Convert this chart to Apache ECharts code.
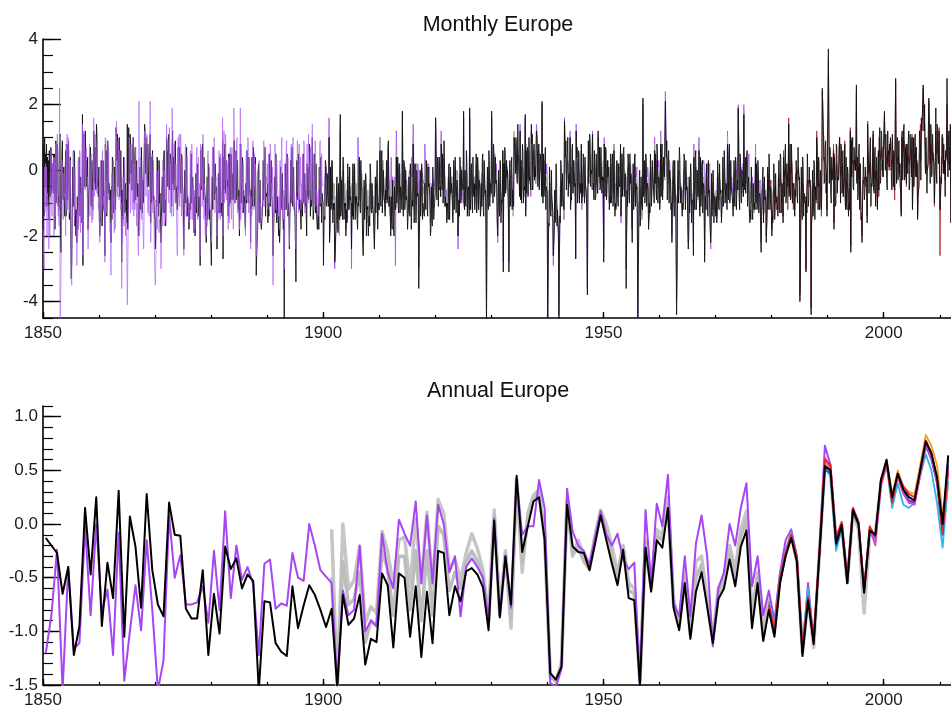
<!DOCTYPE html>
<html>
<head>
<meta charset="utf-8">
<title>Europe temperature anomalies</title>
<script src="https://cdn.jsdelivr.net/npm/echarts@6.0.0/dist/echarts.min.js"></script>
<style>
  html, body { margin: 0; padding: 0; background: #ffffff; }
  #chart { width: 951px; height: 709px; }
</style>
</head>
<body>
<div id="chart"></div>
<script>
// ---------------------------------------------------------------------------
// Tick labels
// ---------------------------------------------------------------------------
const yearTicks = [1850, 1900, 1950, 2000];
const monthlyYTicks = [-4, -2, 0, 2, 4];
const annualYTicks = [-1.5, -1.0, -0.5, 0.0, 0.5, 1.0];

// ---------------------------------------------------------------------------
// Monthly anomalies, in tenths of a degree; one row per year (Jan..Dec)
// ---------------------------------------------------------------------------
const blackMonthlyStart = 1850;
const blackMonthly = [
[8,-6,-14,10,-5,5,-5,8,-11,4,-9,3],
[-15,6,-4,-8,7,6,-7,-3,2,-6,5,-7],
[5,-18,-9,9,-10,-6,8,6,-11,-8,-12,10],
[11,-20,-25,-11,5,9,-8,-9,1,-9,-14,-2],
[6,-14,-8,8,-9,-9,9,9,-15,-9,4,-20],
[-33,-28,-15,1,-11,-8,6,5,-17,-12,-20,-12],
[-22,-8,-18,-11,-3,4,-8,-14,-2,-7,-16,-15],
[17,-29,10,11,-4,-5,12,12,-5,3,-2,4],
[-18,-10,-6,-4,5,7,-10,-11,3,-2,-12,-2],
[12,9,-4,7,-4,-6,14,11,-5,-3,-8,1],
[-14,-20,-16,-14,3,2,-17,-12,3,-10,-12,-13],
[-26,8,-3,6,-14,-6,9,6,-7,-4,-9,-8],
[-6,-22,-5,-15,4,3,-10,-13,0,1,-12,-9],
[13,10,3,11,-5,-5,9,10,-8,-4,6,-4],
[-28,-6,-14,-15,4,3,-10,-13,-4,-12,-9,-16],
[14,-18,-12,13,-2,-4,11,8,-1,3,-6,6],
[8,10,-9,-10,3,7,-9,-9,3,-6,-8,-4],
[-20,-15,-14,1,-10,-12,7,1,-13,-3,-10,-8],
[-8,14,12,-1,10,10,-1,-5,8,0,-5,2],
[6,11,-16,4,-10,-9,6,6,-9,-8,-14,-15],
[-24,-18,-9,-11,4,4,-7,-14,3,-10,-7,-7],
[-22,-16,-6,-2,-10,-13,4,6,-13,-9,-17,-10],
[10,8,5,-5,8,11,-6,-6,5,3,2,-11],
[6,12,-4,4,-6,-6,8,9,-10,-5,-8,-12],
[-10,7,-6,-6,7,7,-3,-7,5,4,-4,-6],
[-12,-24,-12,0,-8,-10,3,7,-14,-8,-9,-9],
[-18,-14,-10,-12,1,5,-10,-10,-2,-6,-13,-19],
[-8,-20,-17,-1,-13,-8,2,1,-14,-10,-8,-12],
[-29,6,-3,-6,4,8,-5,-9,4,-3,-7,-8],
[-16,-22,-12,-2,-15,-13,2,2,-15,-12,-18,-23],
[-29,-8,-2,-12,7,3,-6,-9,2,-7,-6,-5],
[-24,-16,-12,-1,-10,-13,4,0,-13,-11,-10,-14],
[9,-27,4,-6,5,8,-7,-7,3,2,-5,-3],
[-14,5,-11,5,-10,-6,5,3,-9,-6,-1,-9],
[6,9,-8,-10,3,6,-9,-8,3,-10,-12,-6],
[-20,-12,8,2,-10,-10,4,3,-13,-6,-10,-8],
[-16,-18,-4,-10,6,4,-5,-10,4,3,-6,-8],
[-22,-6,-12,4,-11,-8,7,4,-11,-6,4,-3],
[-32,-26,-22,-18,-2,2,-15,-16,-3,-14,-16,-18],
[-18,-13,-9,3,-9,-9,1,7,-14,-8,-7,-8],
[-4,-16,-10,-14,5,5,-11,-11,3,-7,-9,-15],
[-26,-20,-14,-2,-12,-13,5,0,-16,-8,-12,-14],
[-20,-14,-22,-17,1,-2,-11,-12,-1,-13,-18,-15],
[-48,-8,-12,2,-12,-10,5,1,-14,-10,-14,-24],
[-14,-10,3,-10,4,7,-11,-7,1,-9,-12,-14],
[-22,-34,-12,3,-9,-9,5,3,-12,-10,-9,-14],
[-18,-9,-12,-14,3,5,-10,-10,-1,-11,-6,-13],
[-20,2,-8,1,-9,-8,8,6,-14,-9,-11,-10],
[10,-6,-15,-13,2,5,-10,-13,2,-12,-16,-18],
[-14,-10,-18,1,-10,-11,4,4,-16,-7,-9,-10],
[-29,-16,-14,-15,3,2,-10,-11,-1,-8,-10,-11],
[10,-22,-18,1,-12,-11,3,1,-16,-10,-12,-10],
[-28,-26,-20,-18,-4,-2,-15,-19,-4,-14,-15,-15],
[17,-14,-12,-3,-13,-15,4,-2,-15,-10,-11,-10],
[-20,-12,-16,-15,2,2,-12,-11,1,-9,-8,-10],
[-24,-10,-14,2,-15,-10,2,2,-15,-8,-10,-8],
[-15,-18,-10,-11,3,4,-10,-13,3,-5,-6,-6],
[-22,-26,-18,-3,-15,-15,-1,-2,-20,-11,-12,-11],
[-20,-16,-14,-17,2,-1,-12,-13,-4,-11,-12,-14],
[-14,-24,-16,-2,-13,-13,-2,3,-18,-11,-10,-12],
[-12,6,-8,-11,4,6,-13,-7,0,-7,-8,-10],
[-14,-6,-9,3,-10,-9,7,9,-11,-8,-10,-14],
[-20,-8,-16,-18,-3,-3,-18,-20,-5,-10,-12,-11],
[4,-10,-6,4,-11,-13,2,2,-13,-5,-6,-8],
[-12,18,-8,-14,3,2,-12,-10,0,-9,-8,-10],
[-18,-14,-12,-2,-12,-14,2,-1,-18,-11,-9,-11],
[8,-4,-16,-14,2,2,-16,-11,0,-8,-7,-8],
[-36,-22,-14,0,-14,-11,2,0,-15,-10,-12,-12],
[-14,-4,-8,-12,3,2,-11,-14,1,-5,-4,-6],
[-10,-20,-18,-5,-15,-17,1,-4,-15,-12,-10,-7],
[16,6,-6,-9,4,2,-11,-11,4,-6,-5,-8],
[8,4,-6,5,-10,-8,9,2,-11,-8,-11,-10],
[-16,-12,-10,-15,1,2,-15,-15,1,-7,-4,-6],
[-10,-16,-6,3,-12,-9,4,4,-13,-6,-3,-8],
[-20,-14,-9,-14,4,2,-10,-8,0,-4,-5,-6],
[18,-10,-12,0,-10,-11,6,2,-14,-6,-5,-6],
[-14,19,-8,-12,1,2,-9,-13,4,-6,-8,-4],
[-12,-6,-4,5,-13,-10,4,1,-12,-3,-4,-6],
[-14,-12,-4,-11,3,5,-11,-14,3,-4,-7,-6],
[-20,-48,-12,1,-10,-12,6,3,-11,-6,-4,-7],
[18,4,-3,-10,8,5,-8,-6,4,-4,-3,-5],
[-16,-20,-10,0,-11,-14,3,2,-16,-9,-10,-7],
[6,-31,2,-8,7,6,-7,-7,3,-2,0,-5],
[-12,-31,-6,3,-11,-8,2,4,-12,-6,-8,-11],
[10,8,6,-1,10,10,-2,-4,14,5,2,2],
[-8,12,-9,3,-10,-10,8,5,-10,-6,-5,-6],
[17,-14,6,-7,6,7,-8,-8,10,-3,-2,-4],
[-6,14,8,11,-6,-6,7,8,-3,1,-2,-2],
[12,10,6,-5,5,8,-6,-6,5,3,0,-8],
[21,-6,-10,5,-8,-6,3,7,-12,-5,-6,-7],
[-48,-30,-16,-17,1,1,-13,-14,0,-9,-10,-13],
[-26,-22,-18,-6,-16,-16,2,-2,-17,-12,-16,-19],
[-48,-28,-14,-16,3,1,-11,-11,-1,-9,-10,-12],
[15,8,4,9,-6,-6,5,10,-8,-2,-1,-4],
[10,-12,-8,-9,6,8,-7,-4,3,-2,-5,-4],
[-27,12,4,7,-10,-7,6,5,-10,-4,-5,-7],
[8,-10,-4,-8,5,4,-7,-10,4,-5,-6,-7],
[-16,-38,-8,9,-4,-4,11,8,-5,0,-1,0],
[11,-6,-4,-9,6,6,-9,-8,5,-4,-5,-7],
[12,6,-2,7,-6,-5,7,7,-7,-2,-3,-2],
[-28,8,4,-8,7,6,-9,-6,3,-2,0,1],
[-12,-8,-10,5,-10,-7,3,5,-11,-5,6,-4],
[-14,-10,-12,-11,3,3,-9,-11,2,-4,-5,-4],
[8,-14,-6,5,-8,-8,6,7,-8,-3,-1,-2],
[-36,-20,-6,-11,5,3,-7,-10,5,-4,-1,-2],
[-16,-22,-10,2,-12,-9,4,5,-11,-4,-6,-5],
[-14,-48,-30,-18,-4,0,-17,-14,-2,-10,-11,-12],
[22,-8,-6,3,-10,-8,5,4,-11,-5,-4,-6],
[-18,-14,-10,-13,5,5,-11,-7,3,-2,-4,-6],
[-10,6,-4,5,-6,-9,8,5,-10,-4,-2,-3],
[-12,-6,8,-8,5,8,-9,-9,4,-1,-2,-2],
[21,10,4,9,-9,-6,4,6,-10,0,-2,-3],
[-12,-10,-22,-12,1,3,-10,-14,3,-7,-8,-8],
[-44,-30,-8,3,-10,-10,7,3,-10,-5,-6,-10],
[-14,-10,-12,-12,5,4,-7,-12,3,-6,-5,-6],
[-16,-24,-20,-2,-13,-13,2,-1,-16,-10,-9,-10],
[-26,4,-8,-12,4,6,-12,-9,0,-5,-8,-6],
[6,-12,-14,4,-11,-8,1,3,-13,-5,-4,-7],
[-28,-12,-8,-12,2,2,-10,-14,3,-7,-6,-6],
[-18,-22,-16,-1,-14,-14,0,-3,-16,-8,-9,-11],
[-14,-8,-16,-13,3,3,-11,-12,2,-5,-7,-6],
[-16,-12,-10,4,-11,-9,6,1,-10,-6,-4,-5],
[-12,8,-2,-9,5,8,-10,-8,3,-5,-6,-8],
[-10,-14,-8,3,-10,-11,4,2,-12,-7,-3,-6],
[19,6,-8,-12,5,2,-9,-10,0,-5,-4,-8],
[17,-4,-6,4,-7,-7,4,6,-11,-4,-2,-2],
[-14,-16,-12,-15,1,1,-13,-15,-4,-11,-12,-10],
[-12,4,-10,2,-12,-11,3,0,-13,-8,-7,-8],
[-18,-25,-14,-14,-1,1,-16,-16,-2,-9,-8,-10],
[-22,-16,-10,1,-12,-12,5,-1,-12,-5,-6,-6],
[-20,-14,-16,-16,2,-1,-15,-12,-1,-10,-9,-8],
[-12,-14,-4,3,-11,-13,5,4,-13,-6,-4,-7],
[-16,4,-2,-8,4,8,-10,-9,2,-2,-5,-2],
[14,-8,-2,8,-9,-8,8,8,-10,-4,-5,-4],
[-10,-14,-6,-8,3,3,-8,-10,7,0,-3,-2],
[-40,-31,-12,1,-12,-15,4,0,-14,-7,-9,-9],
[-10,-31,-8,-13,5,5,-11,-9,1,-4,-3,-6],
[-44,-16,-14,0,-14,-12,3,2,-15,-5,-8,-9],
[10,6,-4,-12,4,2,-12,-11,0,-7,-12,0],
[25,18,12,10,-4,-3,7,9,-7,-1,-14,8],
[16,37,14,-4,7,6,-7,-10,4,-3,-1,1],
[6,-18,4,4,-11,-10,8,7,-7,-2,-3,-2],
[6,10,2,-10,8,6,-7,-6,6,-8,-4,-3],
[8,-10,-12,4,-11,-12,1,-1,-14,-10,-12,-3],
[12,-25,9,-2,7,10,-5,-6,7,2,3,0],
[6,26,-4,4,-9,-7,7,8,-12,2,-6,-15],
[-14,-22,-10,-10,4,4,-9,-7,1,-3,-2,-4],
[-16,14,6,4,-7,-7,8,10,-11,-4,-5,-4],
[8,12,-6,-7,5,7,-11,-6,4,-4,-12,-2],
[6,-6,10,13,-4,-3,12,11,0,3,-2,8],
[10,18,8,0,11,11,-4,-6,12,5,6,1],
[8,6,10,8,-3,-6,11,11,-5,6,-4,-6],
[12,28,6,-4,9,10,-3,-3,9,-1,2,-5],
[-6,-14,10,12,-3,2,13,14,-3,-2,6,7],
[-4,8,2,-1,9,12,-6,-4,11,6,5,-2],
[10,-12,-4,10,-5,-1,10,11,-2,7,-2,2],
[-15,-8,-6,-5,12,12,8,-3,16,12,16,21],
[26,20,12,20,2,-1,10,10,-7,0,2,2],
[22,16,4,-4,14,13,-2,-1,11,6,4,1],
[-10,-2,3,19,0,-4,14,14,3,2,12,-3],
[-12,-8,-2,-4,10,11,4,-1,8,-1,3,-8],
[6,4,8,28,3,-2,9,12,0,6,14,-16]
];

const purpleMonthlyStart = 1850;
const purpleMonthly = [
[-18,-26,-30,1,-13,2,-11,1,-20,-7,-12,-11],
[-24,-14,-20,-14,6,4,-11,-14,2,-6,4,-20],
[4,-6,-14,8,-9,-10,11,8,-14,-10,-17,25],
[-48,-46,-30,-19,3,2,-14,-15,-1,-8,-7,-9],
[-20,8,-12,11,-12,-9,10,6,-13,-6,3,-14],
[-32,-35,-14,-15,6,6,-9,-15,1,-10,-13,-14],
[-29,-12,-20,3,-17,-12,6,5,-19,-7,-14,-16],
[14,-26,12,-6,11,11,-6,-6,7,1,-6,-6],
[-24,-18,-10,8,-14,-10,4,5,-16,-6,-15,-12],
[16,10,-8,-8,11,8,-4,-7,9,-5,-12,-10],
[-12,-22,-14,2,-10,-14,3,6,-11,-8,-10,-6],
[-28,10,-6,-13,5,9,-7,-9,6,-6,-14,-19],
[-16,-32,-14,-1,-13,-14,3,3,-19,-8,-18,-15],
[12,15,-6,-8,9,8,-9,-9,6,-8,-12,-10],
[-36,-14,-22,-2,-16,-17,4,-2,-20,-14,-16,-25],
[-41,-30,-16,-11,10,7,-8,-13,8,-4,-10,-12],
[10,8,-14,2,-12,-11,7,7,-17,-10,-18,-24],
[-26,21,-20,-18,4,3,-12,-15,-2,-12,-20,-24],
[-14,12,8,11,-8,-8,11,9,-13,-6,-12,-14],
[4,21,-22,-16,2,5,-12,-13,3,-12,-24,-32],
[-35,-28,-20,0,-18,-15,0,-4,-19,-15,-18,-20],
[-30,-26,-14,-17,3,-1,-12,-17,0,-12,-14,-16],
[14,9,6,9,-8,-10,13,8,-13,2,-6,-14],
[19,4,-10,-14,8,6,-9,-10,2,-10,-20,-26],
[-16,10,-8,11,-11,-8,11,9,-14,2,-8,-14],
[-14,-26,-16,-14,7,8,-14,-11,4,-6,-6,-6],
[-16,-12,-8,6,-15,-11,8,5,-15,-5,-14,-19],
[-6,-18,-16,-16,4,7,-11,-15,4,-8,-4,-6],
[-26,8,-5,7,-11,-10,11,7,-15,-4,-14,-20],
[-14,-20,-10,-17,4,6,-13,-10,1,-10,-12,-13],
[-22,-4,2,7,-9,-9,10,10,-13,-4,-2,-2],
[-20,-18,-10,-13,5,6,-12,-15,5,-8,-7,-9],
[16,-20,8,12,-10,-8,11,8,-9,3,1,0],
[-18,4,-16,-13,6,7,-10,-15,7,-8,-10,-18],
[19,10,-10,5,-10,-10,9,10,-13,-8,-12,-14],
[-18,-14,19,-15,8,8,-12,-10,2,-5,-11,-12],
[-14,-20,-2,6,-9,-9,10,9,-13,4,-4,-6],
[-24,-8,-14,-13,6,9,-9,-12,5,-5,2,-9],
[-26,-22,-20,0,-16,-14,3,0,-16,-10,-11,-12],
[-14,-10,-6,-11,9,7,-11,-9,7,-4,-2,-4],
[2,-12,-8,5,-9,-10,8,6,-9,-4,-6,1],
[-35,-16,-10,-14,8,6,-9,-12,3,-3,-6,-8],
[-14,-8,-18,3,-11,-12,7,10,-15,-8,-12,-6],
[-30,2,-8,-12,6,9,-10,-12,4,-8,-14,-23],
[-10,-6,6,8,-10,-8,8,10,-12,-6,-8,-8],
[-16,-24,-8,-11,9,7,-7,-13,8,-5,-4,4],
[-12,-4,-10,5,-10,-10,9,7,-13,-8,-4,-10],
[-10,8,-2,-10,11,11,-5,-6,7,-3,2,-3],
[14,2,-12,5,-10,-8,9,8,-11,-6,-7,-8],
[-10,-6,-14,-10,8,9,-8,-10,5,-3,-4,-5],
[-24,-12,-8,-3,-1,-2,1,-2,-3,-2,-4,0],
[16,-20,-16,-6,-3,-4,-2,-5,-7,-8,-9,-8],
[-30,-26,-22,-12,-10,-8,-8,-10,-12,-13,-14,-15],
[12,-12,-10,-8,-5,-6,-3,-7,-8,-9,-8,-8],
[-18,-14,-16,-8,-4,-5,-6,-3,-8,-9,-8,-9],
[-30,-8,-12,-5,-4,-2,-4,-3,-7,-6,-8,-7],
[-8,-6,10,-1,0,-2,1,-3,-2,-4,-4,-5],
[-18,-20,-14,-8,-6,-7,-5,-8,-9,-8,-9,-8],
[-16,-14,-12,-8,-5,-6,-4,-6,-8,-9,-9,-11],
[-12,-22,-14,-8,-6,-5,-8,-4,-9,-10,-10,-12],
[-6,10,-4,0,1,2,-1,3,-2,-3,-5,-7],
[-12,-4,-8,-4,-1,-2,2,3,-3,-7,-10,-14],
[-6,4,-8,-4,-2,-3,-4,-5,-4,-2,-29,-9],
[12,4,-2,0,1,-1,0,2,-3,-2,-5,-6],
[-8,18,-4,-2,-1,0,-1,1,-3,-4,-3,-5],
[-12,-8,-4,-2,0,-1,1,0,-2,4,-2,2],
[14,6,-6,1,2,0,1,2,0,1,2,1],
[-30,-16,-8,-4,-2,0,1,-2,-1,-3,-4,-3],
[-6,8,4,0,2,1,0,-1,1,2,0,1],
[-6,-16,-12,-6,-4,-5,-3,-5,-4,-6,-3,-2],
[16,10,0,1,-1,0,-2,1,0,-1,2,-2],
[12,6,-2,0,1,2,3,-1,-2,-5,-8,-6],
[-12,-8,-6,-5,-2,-3,-4,-5,-3,-4,-2,-6],
[-6,-12,-2,-1,-2,0,1,-2,-3,-3,0,-6],
[-24,-18,-10,-6,-5,-7,-4,-3,-8,-6,-7,-10],
[16,-10,-12,-5,-4,-3,-2,-6,-6,-5,-5,-6],
[-12,16,-6,-4,-5,-3,-2,-4,-3,-5,-6,-2],
[-10,-6,-2,-2,-4,-3,-1,-5,-4,-2,-3,-6],
[-12,-10,-3,-4,-2,-1,-3,-5,-4,-3,-7,-6],
[-18,-42,-12,-6,-3,-4,-2,-3,-4,-5,-3,-6],
[16,4,-2,-1,0,0,-1,1,-2,-3,2,-2],
[-14,-22,-10,-6,-5,-6,-4,-6,-8,-9,-10,-8],
[4,-28,2,-1,0,-2,1,-1,-3,-2,0,-6],
[-14,-28,-6,-5,-2,-3,-4,-2,-5,-6,-9,-12],
[8,6,5,4,4,3,5,3,5,4,1,0],
[-4,14,-6,-3,-2,-1,1,0,-2,-4,-2,-3],
[16,-12,5,0,-1,1,-2,0,1,-3,-2,-3],
[-8,12,6,1,0,-1,-2,0,1,-2,-4,-3],
[14,12,8,3,1,2,3,2,0,4,2,-3],
[20,4,-4,1,2,1,-1,2,0,-1,2,-2],
[-46,-32,-18,-10,-7,-8,-6,-9,-7,-10,-12,-15],
[-29,-24,-20,-13,-10,-9,-6,-10,-11,-13,-16,-19],
[-44,-30,-16,-9,-6,-7,-5,-6,-8,-10,-12,-15],
[16,10,5,3,2,1,0,3,1,-1,0,-4],
[12,-10,-6,-1,0,1,2,3,-2,-1,-4,-6],
[-27,14,5,0,-1,0,1,-1,-2,-3,-4,-6],
[6,-12,-4,-2,-1,-2,1,-1,-3,-4,-6,-8],
[-14,-36,-8,1,2,3,2,1,0,1,0,0],
[12,-4,-2,0,-1,1,-2,0,-1,-3,-5,-7],
[10,6,-1,1,0,2,1,-1,0,-2,-2,-2],
[-24,10,5,0,1,-1,0,1,-2,-1,1,-2],
[-10,-6,-8,-2,-1,0,-2,-1,-3,-4,8,5],
[-8,-4,-6,1,2,0,2,1,-1,0,1,0],
[6,-16,-8,-2,-1,0,-3,0,-3,-4,-2,-3],
[-30,-16,-4,-1,0,-1,1,0,-1,2,1,1],
[-12,-18,-8,-3,-2,0,-1,1,-3,-1,-2,1],
[-14,-46,-30,-12,-9,-8,-9,-8,-10,-10,-12,-12],
[20,-4,-3,-2,0,1,2,-1,0,-2,1,0],
[-16,-14,-12,-5,-3,-2,-4,-1,-3,-2,-4,-6],
[-6,10,2,3,2,1,3,0,2,1,3,3],
[-10,-4,12,1,0,2,1,-1,0,1,-1,-1],
[24,14,8,3,2,1,2,1,0,3,1,1],
[-10,-8,-20,-6,-4,-3,-2,-5,-4,-6,-7,-9],
[-40,-28,-6,-4,-2,-1,0,-3,-4,-5,-6,-9],
[-10,-6,-8,-2,-1,0,1,-2,-1,-3,-2,-2],
[-14,-22,-16,-6,-5,-4,-3,-7,-6,-8,-8,-9],
[-22,8,-4,-2,0,1,-1,0,-2,-1,-2,1],
[10,-6,-8,2,1,2,0,1,3,2,3,2],
[-26,-8,-4,-1,1,0,2,-1,0,-2,1,2],
[-16,-24,-18,-8,-6,-5,-7,-8,-9,-8,-10,-13],
[-12,-6,-14,-5,-3,-2,-4,-3,-5,-4,-7,-7],
[-14,-10,-8,-3,-2,-1,0,-4,-3,-5,-4,-6],
[-8,12,2,-1,1,2,0,1,-2,-3,-2,-2],
[-6,-10,-4,-1,0,-2,1,-3,0,-2,4,-1],
[20,10,-4,-1,0,-2,1,0,-2,-1,2,1],
[20,4,-2,2,3,4,2,3,2,1,4,5],
[-10,-12,-8,-5,-3,-4,-2,-6,-6,-7,-6,-3],
[-8,8,-6,-4,-2,-3,-1,-5,-3,-5,-4,-3],
[-16,-22,-12,-6,-5,-4,-7,-6,-8,-7,-6,-9],
[-20,-14,-8,-4,-3,-2,-1,-5,-4,-3,-4,-4]
];

const grayMonthlyStart = 1901;
const grayMonthly = [
[8,-18,-14,-2,-8,2,-6,3,-9,-4,-8,-4],
[-24,-22,-18,-8,-16,-6,-14,-10,-18,-12,-20,-12],
[14,-10,-8,-2,-9,0,-7,2,-10,-6,-4,-8],
[-16,-6,-14,-3,-11,-2,-10,-4,-12,-5,-8,-5],
[-20,-4,-12,0,-10,-2,-9,1,-11,-4,-9,-4],
[-12,-14,-2,-6,1,-9,-2,-7,0,-5,-1,-3],
[-18,-22,-14,-5,-13,-6,-12,-4,-14,-7,-11,-6],
[-16,-12,-8,-4,-12,-3,-10,-5,-13,-6,-11,-8],
[-10,-20,-12,-4,-13,-5,-11,-3,-14,-8,-12,-8],
[-8,10,-6,1,-7,2,-8,3,-9,-2,-7,-5],
[-10,-2,-8,1,-7,3,-4,6,-6,-3,-8,-10],
[-16,-4,-12,-6,-13,-5,-14,-7,-12,-4,-10,-5],
[6,-8,-3,1,-7,0,-8,2,-9,-1,-5,-4],
[-8,16,-6,-1,-8,2,-9,1,-7,-5,-4,-7],
[-14,-10,-8,-3,-11,-4,-9,-2,-12,-7,-10,-6],
[10,-2,-12,0,-7,1,-8,2,-6,-4,-5,-5],
[-30,-18,-10,-3,-9,-1,-8,-2,-10,-5,-7,-5],
[-10,2,-5,1,-6,0,-7,2,-5,-1,-4,-3],
[-6,-16,-14,-5,-12,-4,-11,-6,-10,-9,-8,-7],
[14,8,-3,3,-5,2,-6,4,-4,-3,-2,-8],
[10,6,-4,2,-5,4,-3,0,-6,-4,-6,-6],
[-12,-8,-6,-2,-9,-3,-10,-4,-8,-2,-6,-2],
[-6,-14,-3,-1,-8,0,-7,-2,-8,-3,0,-8],
[-16,-12,-6,-1,-8,-2,-7,1,-9,-3,-5,-4],
[16,-8,-10,-2,-7,0,-6,-1,-9,-5,-8,-8],
[-10,16,-6,-1,-8,0,-6,-2,-7,-3,-7,-2],
[-8,-2,-6,2,-8,-1,-6,-2,-9,0,-3,-5],
[-10,-8,-2,-1,-8,2,-9,-3,-8,0,-7,-6],
[-16,-40,-10,-2,-8,0,-7,1,-8,-4,-6,-8],
[16,6,-2,3,-4,4,-5,5,-3,-2,-1,-5],
[-12,-18,-8,-3,-11,-4,-10,-2,-12,-7,-13,-8],
[6,-26,2,0,-6,2,-5,1,-6,-1,1,-4],
[-10,-26,-4,-3,-9,0,-10,-1,-11,-6,-14,-14],
[12,6,8,1,7,0,9,2,6,-1,2,-4],
[-6,10,-8,-2,-8,1,-6,0,-9,-4,-8,-8],
[15,-10,8,-2,4,-3,5,-1,6,-4,0,-6],
[-4,12,6,0,5,-2,4,-1,6,0,2,-4],
[12,10,4,-2,5,-3,6,-1,3,5,2,-5],
[18,-4,-8,2,-5,3,-6,1,-4,-2,-3,-4],
[-40,-26,-14,-6,-12,-4,-10,-6,-12,-8,-14,-16],
[-24,-20,-16,-10,-15,-8,-12,-9,-15,-12,-18,-21],
[-42,-24,-12,-5,-10,-3,-9,-4,-11,-8,-13,-15],
[14,6,5,-1,4,-3,3,0,2,-2,1,-5],
[8,-10,-6,1,-5,2,-4,3,-7,-3,-8,-7],
[-22,10,4,-3,2,-4,3,-5,0,-4,-1,-4],
[6,-12,-3,-6,1,-7,2,-6,-2,-8,-5,-8],
[-14,-32,-6,4,-2,6,0,5,-2,3,-6,-4],
[10,-4,-6,2,-5,3,-6,1,-4,-2,-7,-6],
[10,4,-4,3,-3,5,-2,2,-3,1,-4,3],
[-22,6,5,-3,3,-4,2,-2,1,-4,3,3],
[-10,-6,-8,0,-5,2,-6,1,-7,-3,8,-2],
[-12,-8,-10,-1,-7,0,-6,2,-8,-3,-4,-3],
[6,-12,-5,2,-5,3,-6,4,-5,0,-4,-2],
[-30,-16,-4,1,-6,2,-5,0,-6,-1,-4,-3],
[-14,-18,-8,-2,-8,1,-7,0,-9,-3,-10,-6],
[-12,-42,-26,-10,-14,-6,-13,-5,-14,-9,-15,-14],
[18,-6,-7,0,-5,2,-6,-1,-5,-3,-6,-5],
[-16,-12,-8,-1,-7,1,-8,0,-6,-2,-7,-6],
[-8,8,-3,2,-4,1,-3,3,-5,-1,-2,0],
[-10,-4,10,-4,1,-5,2,-6,0,-3,-2,-3],
[18,8,5,-2,4,-3,2,-4,1,-2,0,-3],
[-10,-8,-18,-3,-10,-2,-9,-4,-8,-6,-10,-8],
[-38,-26,-6,-2,-7,0,-6,-3,-8,-4,-9,-11],
[-12,-8,-10,0,-6,1,-5,-2,-7,-3,-4,-4],
[-14,-20,-16,-5,-11,-3,-10,-6,-11,-7,-9,-8],
[-22,6,-7,-1,-6,1,-7,0,-8,-3,-9,-4],
[8,-10,-12,0,-6,2,-7,-1,-8,-2,-6,-6],
[-24,-10,-6,-3,-8,-1,-7,-2,-8,-4,-6,-5],
[-16,-20,-14,-6,-12,-4,-11,-6,-12,-7,-12,-12],
[-12,-6,-14,-2,-8,-1,-9,-2,-9,-3,-10,-8],
[-14,-10,-8,-1,-7,1,-6,-2,-7,-4,-8,-6],
[-10,10,-4,0,-5,2,-6,1,-7,-3,-7,-7],
[-8,-12,-6,-1,-7,0,-6,-2,-7,-4,-1,-6],
[18,8,-6,0,-6,1,-5,-1,-7,-2,-4,-8],
[18,-2,-4,3,-3,4,-4,2,-2,-1,2,-1],
[-12,-14,-10,-4,-10,-3,-8,-5,-11,-8,-13,-10],
[-10,6,-8,-2,-7,0,-6,-3,-8,-4,-9,-9],
[-16,-22,-12,-6,-12,-4,-11,-6,-13,-8,-12,-10],
[-20,-14,-8,-3,-9,-1,-7,-4,-10,-5,-8,-7]
];

const redMonthlyStart = 1979;
const redMonthly = [
[-20,-17,-9,-5,-5,-3,-3,-6,-5,-5,-3,-3],
[-18,-12,-15,-7,-6,-6,-8,-5,-8,-9,-12,-12],
[-10,-12,-2,-2,-4,-5,-1,-3,-4,-5,-6,-6],
[-14,6,-1,0,-2,1,-1,-2,-3,-1,-12,-3],
[16,-7,-1,1,0,-1,3,2,-2,-6,-12,-5],
[-8,-12,-5,-1,-2,-3,0,-1,0,1,-2,-3],
[-38,-30,-11,-6,-4,-6,-4,-5,-7,-7,-10,-10],
[-8,-30,-8,-5,-3,-3,-4,-3,-5,-4,-4,-5],
[-42,-15,-13,-6,-7,-5,-4,-5,-6,-5,-8,-10],
[12,7,-3,-5,-3,-5,-4,-5,-5,-6,-14,-3],
[24,20,14,3,4,3,2,2,1,0,-12,11],
[18,34,15,2,2,0,0,-1,-3,-2,0,1],
[8,-16,5,-2,-3,-1,1,2,0,-2,-3,-3],
[7,10,3,-2,1,0,-1,2,-2,-8,-5,-3],
[9,-8,-11,-3,-3,-4,-5,-6,-7,-9,-11,-2],
[13,-23,10,4,2,2,3,2,0,2,3,0],
[7,24,-3,-3,-2,-1,1,1,-3,2,-6,-15],
[-13,-20,-10,-3,-4,-3,-2,-2,-5,-3,-3,-4],
[-14,15,7,-1,0,1,1,2,-2,-3,-4,-4],
[7,11,-6,0,-2,-1,-3,0,-2,-4,-11,-3],
[5,-8,10,5,4,3,6,4,7,3,-2,9],
[9,17,8,6,5,4,3,2,4,5,5,0],
[7,5,9,0,3,2,2,4,1,5,-5,-9],
[11,27,6,3,2,4,3,4,1,-2,2,-5],
[-5,-13,10,4,5,10,6,9,3,-2,7,8],
[-5,8,2,5,3,4,2,3,4,6,4,-2],
[11,-11,-3,3,2,5,4,4,6,7,-1,3],
[-14,-8,-6,2,5,6,14,3,10,12,15,21],
[25,20,12,14,8,6,3,2,1,0,1,2],
[21,15,4,2,8,6,5,6,3,5,4,1],
[-11,-2,3,12,7,5,6,8,9,2,13,-2],
[-26,-9,-2,4,2,5,10,6,1,-1,3,-3],
[5,3,7,20,8,4,2,3,7,5,12,-16]
];

// ---------------------------------------------------------------------------
// Annual anomalies (degrees), first value is the start year
// ---------------------------------------------------------------------------
const annualStart = 1850;
const blackAnnual = [
-0.13,-0.2,-0.27,-0.65,-0.4,-1.22,-0.95,0.15,-0.47,0.25,
-0.95,-0.36,-0.69,0.31,-1.05,0.07,-0.21,-0.78,0.28,-0.43,
-0.75,-0.86,0.2,-0.1,-0.11,-0.79,-0.88,-0.88,-0.43,-1.22,
-0.65,-1.02,-0.21,-0.42,-0.32,-0.6,-0.47,-0.53,-1.55,-0.72,
-0.73,-1.11,-1.19,-1.23,-0.58,-0.97,-0.76,-0.57,-0.66,-0.8,
-0.96,-0.79,-1.52,-0.66,-0.94,-0.88,-0.66,-1.31,-1.07,-1.1,
-0.46,-0.57,-1.15,-0.46,-0.5,-1.05,-0.58,-1.24,-0.63,-1.11,
-0.25,-0.27,-0.85,-0.58,-0.72,-0.44,-0.41,-0.47,-0.59,-0.99,
0.03,-0.87,-0.3,-0.75,0.45,-0.26,-0.02,0.21,0.25,-0.15,
-1.39,-1.45,-1.33,0.18,-0.21,-0.26,-0.27,-0.43,-0.18,0.08,
-0.15,-0.37,-0.57,-0.24,-0.69,-0.71,-1.5,-0.22,-0.63,-0.15,
-0.22,0.15,-0.78,-0.99,-0.55,-1.07,-0.63,-0.45,-0.77,-1.11,
-0.7,-0.6,-0.33,-0.58,-0.21,-0.06,-0.97,-0.55,-1.09,-0.8,
-1.05,-0.55,-0.3,-0.13,-0.35,-1.23,-0.71,-1.12,-0.3,0.54,
0.5,-0.18,-0.01,-0.55,0.13,0.0,-0.64,-0.06,-0.1,0.41,
0.6,0.25,0.47,0.32,0.25,0.22,0.5,0.77,0.66,0.44,
0.0,0.64
];
const purpleAnnual = [
-1.2,-0.85,-0.24,-1.55,-0.4,-1.16,-1.11,-0.02,-0.85,0.0,
-0.82,-0.61,-1.22,-0.08,-1.46,-1.0,-0.57,-0.99,-0.15,-0.8,
-1.55,-1.27,0.08,-0.5,-0.29,-0.75,-0.75,-0.73,-0.58,-0.92,
-0.25,-0.8,0.12,-0.69,-0.2,-0.52,-0.4,-0.56,-1.22,-0.37,
-0.33,-0.79,-0.74,-0.76,-0.27,-0.5,-0.53,0.0,-0.2,-0.43,
-0.49,-0.55,-1.5,-0.62,-0.85,-0.8,-0.2,-1.0,-0.9,-0.95,
-0.09,-0.45,-0.6,0.04,-0.09,-0.2,0.21,-0.55,0.08,-0.55,
0.18,0.0,-0.45,-0.3,-0.86,-0.4,-0.32,-0.4,-0.5,-0.9,
0.05,-0.85,-0.3,-0.78,0.42,-0.1,-0.02,-0.02,0.41,0.15,
-1.48,-1.52,-1.35,0.33,-0.07,-0.2,-0.25,-0.38,-0.12,0.12,
-0.1,-0.2,-0.09,-0.33,-0.42,-0.36,-1.5,0.13,-0.55,0.19,
-0.02,0.46,-0.74,-0.86,-0.3,-0.86,-0.18,0.08,-0.3,-1.14,
-0.6,-0.45,0.0,-0.2,0.15,0.38,-0.58,-0.3,-0.85,-0.62,
-0.9,-0.45,-0.15,-0.05,-0.3,-1.2,-0.55,-1.1,-0.25,0.73,
0.55,-0.15,0.0,-0.5,0.15,0.02,-0.62,-0.05,-0.15,0.42,
0.58,0.22,0.47,0.3,0.2,0.22,0.48,0.74,0.6,0.4,
-0.05,0.6
];

// Ensemble members from 1901
const grayStart = 1901;
const grayAnnualA = [
-0.05,-1.5,0.0,-0.61,-0.52,-0.21,-0.92,-0.77,-0.83,
-0.07,-0.26,-0.57,-0.15,-0.12,-0.58,0.05,-0.55,0.11,-0.57,
0.23,0.1,-0.43,-0.33,-0.52,-0.27,-0.09,-0.23,-0.43,-0.86,
0.13,-0.8,-0.25,-0.97,0.4,-0.45,0.1,0.27,0.32,-0.09,
-1.42,-1.47,-1.3,0.22,-0.3,-0.15,-0.3,-0.38,-0.1,0.13,
0.0,-0.2,-0.45,-0.2,-0.55,-0.6,-1.45,-0.15,-0.55,-0.05,
-0.1,0.25,-0.7,-0.92,-0.45,-1.0,-0.35,-0.3,-0.7,-1.05,
-0.6,-0.48,-0.2,-0.42,-0.05,0.12,-0.85,-0.45,-1.0,-0.7,
-1.0,-0.5,-0.25,-0.1,-0.35,-1.2,-0.68,-1.15,-0.3,0.55,
0.45,-0.15,0.0,-0.55,0.1,-0.05,-0.83,-0.1,-0.1,0.38,
0.55
];
const grayAnnualB = [
-0.5,-1.5,-0.35,-0.75,-0.7,-0.45,-1.1,-0.9,-0.95,
-0.25,-0.42,-0.85,-0.3,-0.3,-0.8,-0.25,-0.9,-0.25,-0.85,
-0.02,-0.1,-0.62,-0.45,-0.6,-0.35,-0.25,-0.35,-0.5,-0.92,
0.08,-0.85,-0.28,-0.88,0.42,-0.35,0.05,0.24,0.28,-0.12,
-1.4,-1.46,-1.32,0.2,-0.28,-0.22,-0.35,-0.42,-0.15,0.1,
-0.08,-0.3,-0.5,-0.22,-0.62,-0.65,-1.47,-0.18,-0.6,-0.1,
-0.15,0.2,-0.75,-0.95,-0.5,-1.03,-0.5,-0.38,-0.73,-1.08,
-0.65,-0.55,-0.27,-0.5,-0.12,0.05,-0.9,-0.5,-1.05,-0.75,
-1.02
];

// Ensemble members from 1979
const recentStart = 1979;
const redAnnual = [-0.75,-0.98,-0.5,-0.27,-0.1,-0.3,-1.15,-0.68,-1.05,-0.28,0.6,0.55,-0.12,0.02,-0.5,0.15,0.02,-0.6,-0.02,-0.12,0.38,0.57,0.2,0.47,0.35,0.28,0.25,0.5,0.78,0.66,0.42,-0.08,0.5];
const orangeAnnual = [-0.78,-1.0,-0.52,-0.28,-0.12,-0.35,-1.18,-0.7,-1.08,-0.3,0.57,0.52,-0.15,0.0,-0.52,0.12,0.0,-0.62,-0.05,-0.1,0.4,0.6,0.28,0.5,0.35,0.3,0.28,0.55,0.83,0.73,0.55,0.1,0.35];
const cyanAnnual = [-0.72,-0.95,-0.48,-0.25,-0.08,-0.3,-1.1,-0.6,-1.08,-0.3,0.52,0.45,-0.25,-0.05,-0.55,0.1,-0.02,-0.62,-0.08,-0.15,0.38,0.55,0.15,0.38,0.18,0.15,0.2,0.45,0.65,0.5,0.2,-0.22,0.4];
const blueAnnual = [-0.78,-1.02,-0.53,-0.28,-0.12,-0.33,-1.2,-0.68,-1.1,-0.3,0.5,0.48,-0.2,-0.02,-0.55,0.12,0.0,-0.63,-0.06,-0.12,0.4,0.57,0.22,0.45,0.3,0.22,0.2,0.48,0.72,0.62,0.38,-0.1,0.55];
const magentaAnnual = [-0.78,-1.0,-0.5,-0.26,-0.1,-0.32,-1.18,-0.7,-1.1,-0.28,0.62,0.52,-0.15,0.0,-0.53,0.14,0.0,-0.62,-0.04,-0.2,0.36,0.56,0.22,0.44,0.28,0.2,0.18,0.45,0.74,0.62,0.4,-0.05,0.5];

// ---------------------------------------------------------------------------
// Series builders: place each month / year at its mid-point in time
// ---------------------------------------------------------------------------
function monthlyPoints(rows, startYear) {
  const pts = [];
  rows.forEach((row, y) => row.forEach((v, m) => pts.push([startYear + y + (m + 0.5) / 12, v / 10])));
  return pts;
}
function annualPoints(values, startYear) {
  return values.map((v, k) => [startYear + k + 0.5, v]);
}

// The purple record is layered over the black one before 1900 and under it afterwards
const PURPLE_SPLIT = 1900;
const purpleEarlyRows = purpleMonthly.slice(0, PURPLE_SPLIT - purpleMonthlyStart);
const purpleLateRows = purpleMonthly.slice(PURPLE_SPLIT - purpleMonthlyStart);

const FONT = '"Liberation Sans", Arimo, Arial, Helvetica, sans-serif';
const INK = '#000000';
const LABEL = '#1a1a1a';
const PURPLE = '#a745f2';
const X_MIN = 1850, X_MAX = 2012;

function xAxesFor(gridIndex) {
  return [
    {
      type: 'value', gridIndex, min: X_MIN, max: X_MAX, position: 'bottom',
      axisLine: { show: true, onZero: false, lineStyle: { color: INK, width: 1.6 } },
      axisTick: { show: true, inside: true, length: 6, customValues: yearTicks, lineStyle: { color: INK, width: 1.4 } },
      axisLabel: { show: true, customValues: yearTicks, margin: 7, color: LABEL, fontSize: 17, fontFamily: FONT,
                   formatter: v => String(v) },
      splitLine: { show: false }
    },
    {
      type: 'value', gridIndex, min: X_MIN, max: X_MAX, interval: 10, position: 'bottom',
      axisLine: { show: false, onZero: false },
      axisTick: { show: true, inside: true, length: 3, lineStyle: { color: INK, width: 1.2 } },
      axisLabel: { show: false }, splitLine: { show: false }
    }
  ];
}

function yAxesFor(gridIndex, min, max, ticks, minorStep, fmt) {
  return [
    {
      type: 'value', gridIndex, min, max, position: 'left',
      axisLine: { show: true, onZero: false, lineStyle: { color: INK, width: 1.6 } },
      axisTick: { show: true, inside: true, length: 18, customValues: ticks, lineStyle: { color: INK, width: 1.4 } },
      axisLabel: { show: true, customValues: ticks, margin: 5, color: LABEL, fontSize: 17, fontFamily: FONT, formatter: fmt },
      splitLine: { show: false }
    },
    {
      type: 'value', gridIndex, min, max, interval: minorStep, position: 'left',
      axisLine: { show: false, onZero: false },
      axisTick: { show: true, inside: true, length: 10, lineStyle: { color: INK, width: 1.2 } },
      axisLabel: { show: false }, splitLine: { show: false }
    }
  ];
}

function line(name, data, xIdx, yIdx, color, width, z, opacity) {
  return {
    name, type: 'line', data, xAxisIndex: xIdx, yAxisIndex: yIdx,
    showSymbol: false, symbol: 'none', clip: true, silent: true, z,
    lineStyle: { color, width, join: 'round', opacity: opacity == null ? 1 : opacity }
  };
}

const chart = echarts.init(document.getElementById('chart'), null, { renderer: 'canvas' });
chart.setOption({
  animation: false,
  backgroundColor: '#ffffff',
  grid: [
    { left: 43, right: 0, top: 39, height: 279 },
    { left: 43, right: 0, top: 406, height: 279 }
  ],
  xAxis: [...xAxesFor(0), ...xAxesFor(1)],
  yAxis: [
    ...yAxesFor(0, -4.5, 4, monthlyYTicks, 0.5, v => String(v)),
    ...yAxesFor(1, -1.5, 1.1, annualYTicks, 0.1, v => v.toFixed(1))
  ],
  graphic: [
    { type: 'text', x: 498, y: 25, z: 10,
      style: { text: 'Monthly Europe', font: '21.5px ' + FONT, fill: '#111111',
               align: 'center', verticalAlign: 'middle', textAlign: 'center', textVerticalAlign: 'middle' } },
    { type: 'text', x: 498, y: 391, z: 10,
      style: { text: 'Annual Europe', font: '21.5px ' + FONT, fill: '#111111',
               align: 'center', verticalAlign: 'middle', textAlign: 'center', textVerticalAlign: 'middle' } }
  ],
  series: [
    // Monthly panel
    line('Monthly purple (from 1900)', monthlyPoints(purpleLateRows, PURPLE_SPLIT), 0, 0, '#ad55f2', 0.9, 1),
    line('Monthly gray', monthlyPoints(grayMonthly, grayMonthlyStart), 0, 0, '#a0a0a0', 0.9, 2),
    line('Monthly red', monthlyPoints(redMonthly, redMonthlyStart), 0, 0, '#a8303a', 0.9, 2),
    line('Monthly black', monthlyPoints(blackMonthly, blackMonthlyStart), 0, 0, '#111111', 0.9, 3),
    line('Monthly purple (to 1899)', monthlyPoints(purpleEarlyRows, purpleMonthlyStart), 0, 0, '#b05cf2', 0.9, 4, 0.7),
    // Annual panel
    line('Annual gray A', annualPoints(grayAnnualA, grayStart), 2, 2, '#c6c6c6', 3.5, 2),
    line('Annual gray B', annualPoints(grayAnnualB, grayStart), 2, 2, '#bdbdbd', 3.5, 2),
    line('Annual purple', annualPoints(purpleAnnual, annualStart), 2, 2, PURPLE, 2, 3),
    line('Annual cyan', annualPoints(cyanAnnual, recentStart), 2, 2, '#2fb6e3', 1.8, 4),
    line('Annual blue', annualPoints(blueAnnual, recentStart), 2, 2, '#2a4fe0', 1.8, 4),
    line('Annual orange', annualPoints(orangeAnnual, recentStart), 2, 2, '#f0a02c', 1.8, 4),
    line('Annual magenta', annualPoints(magentaAnnual, recentStart), 2, 2, '#e040c8', 1.8, 4),
    line('Annual red', annualPoints(redAnnual, recentStart), 2, 2, '#e8202a', 1.8, 4),
    line('Annual black', annualPoints(blackAnnual, annualStart), 2, 2, '#000000', 2, 5)
  ]
});
</script>
</body>
</html>
